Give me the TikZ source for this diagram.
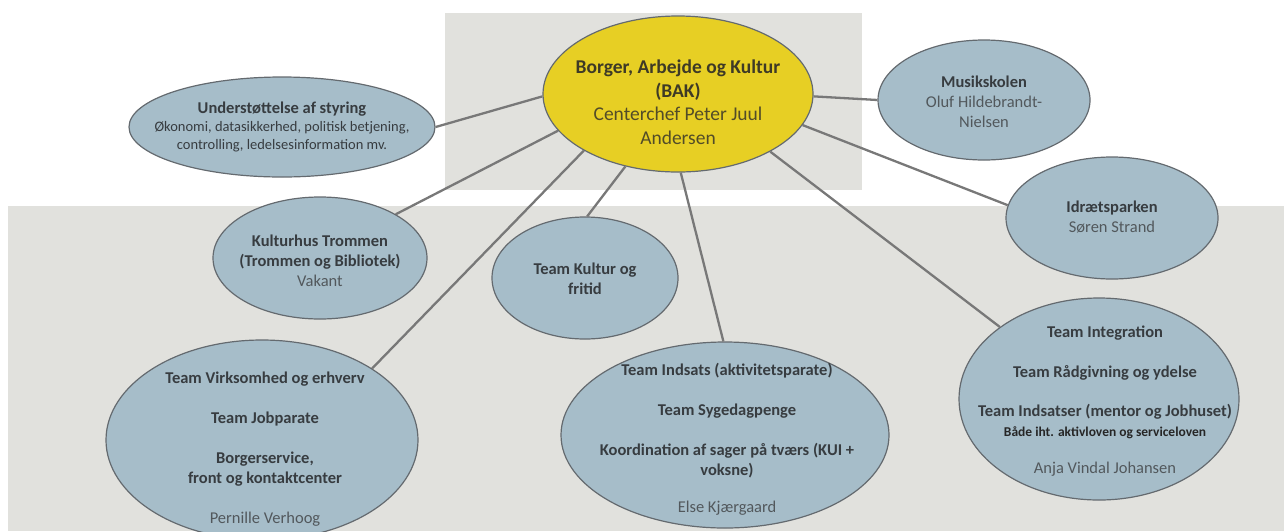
\documentclass[tikz,border=0pt]{standalone}
\usepackage{fontspec}
\setmainfont{Carlito}
\usetikzlibrary{shapes.geometric}

\definecolor{bakyellow}{RGB}{231,207,36}
\definecolor{blobblue}{RGB}{166,189,201}
\definecolor{rimgray}{RGB}{100,106,111}
\definecolor{panelgray}{RGB}{225,225,221}
\definecolor{linkgray}{RGB}{120,120,120}
\definecolor{inkdark}{RGB}{55,60,64}
\definecolor{inkname}{RGB}{82,88,92}
\definecolor{hubink}{RGB}{62,58,38}
\definecolor{hubname}{RGB}{82,76,40}
\newcommand\staffname[1]{{\color{inkname}#1}}

\begin{document}
\begin{tikzpicture}[x=1pt, y=-1pt,
  blob/.style={ellipse, draw=rimgray, line width=1.2pt, fill=blobblue, inner sep=0pt},
  hub/.style={ellipse, draw=rimgray, line width=1.2pt, fill=bakyellow, inner sep=0pt},
  txt/.style={align=center, text=inkdark, inner sep=0pt, font=\fontsize{16.5}{20}\selectfont},
  link/.style={draw=linkgray, line width=2.3pt}]
  \useasboundingbox (0,0) rectangle (1284,531);
  \fill [panelgray] (445,13) rectangle (862,190);
  \fill [panelgray] (8,206) rectangle (1284,531);

  \node [hub, minimum width=270pt, minimum height=156pt] (bak) at (678,94) {};
  \node [blob, minimum width=306pt, minimum height=100pt] (styr) at (282,127) {};
  \node [blob, minimum width=212pt, minimum height=120pt] (musik) at (984,100) {};
  \node [blob, minimum width=212pt, minimum height=122pt] (idraet) at (1112,218) {};
  \node [blob, minimum width=214pt, minimum height=122pt] (trommen) at (320,258) {};
  \node [blob, minimum width=186pt, minimum height=122pt] (kultur) at (585,278) {};
  \node [blob, minimum width=312pt, minimum height=200pt] (virk) at (262,440) {};
  \node [blob, minimum width=328pt, minimum height=186pt] (indsats) at (725,435) {};
  \node [blob, minimum width=280pt, minimum height=202pt] (integ) at (1099,399) {};

  \draw [link] (bak.181) -- (styr.0);
  \draw [link] (bak.-1) -- (musik.180);
  \draw [link] (bak.-14) -- (idraet.173);
  \draw [link] (bak.197) -- (trommen.30);
  \draw [link] (bak.211) -- (virk.33);
  \draw [link] (bak.234) -- (kultur.88);
  \draw [link] (bak.272) -- (indsats.91);
  \draw [link] (bak.-32) -- (integ.144);

  \node [txt, text=hubink, font=\fontsize{19.5}{23.5}\selectfont] (bak-t) at (678,102)
    {\textbf{Borger, Arbejde og Kultur}\\\textbf{(BAK)}\\{\color{hubname}Centerchef Peter Juul}\\{\color{hubname}Andersen}};
  \node [txt, font=\fontsize{14.5}{18}\selectfont] (styr-t) at (282,127)
    {{\fontsize{16.5}{18}\selectfont\bfseries Understøttelse af styring}\\Økonomi, datasikkerhed, politisk betjening,\\controlling, ledelsesinformation mv.};
  \node [txt] (musik-t) at (984,102)
    {\textbf{Musikskolen}\\\staffname{Oluf Hildebrandt-}\\\staffname{Nielsen}};
  \node [txt] (idraet-t) at (1112,217)
    {\textbf{Idrætsparken}\\\staffname{Søren Strand}};
  \node [txt] (trommen-t) at (320,261)
    {\textbf{Kulturhus Trommen}\\\textbf{(Trommen og Bibliotek)}\\\staffname{Vakant}};
  \node [txt] (kultur-t) at (585,279)
    {\textbf{Team Kultur og}\\\textbf{fritid}};
  \node [txt] (virk-t) at (265,449)
    {\textbf{Team Virksomhed og erhverv}\\[20pt]\textbf{Team Jobparate}\\[20pt]\textbf{Borgerservice,}\\\textbf{front og kontaktcenter}\\[20pt]\staffname{Pernille Verhoog}};
  \node [txt] (indsats-t) at (727,439)
    {\textbf{Team Indsats (aktivitetsparate)}\\[20pt]\textbf{Team Sygedagpenge}\\[20pt]\textbf{Koordination af sager på tværs (KUI +}\\\textbf{voksne)}\\[17pt]\staffname{Else Kjærgaard}};
  \node [txt] (integ-t) at (1105,401)
    {\textbf{Team Integration}\\[20pt]\textbf{Team Rådgivning og ydelse}\\[19pt]\textbf{Team Indsatser (mentor og Jobhuset)}\\{\fontsize{13.5}{16}\selectfont\bfseries\color{black!85}Både iht. aktivloven og serviceloven}\\[17pt]\staffname{Anja Vindal Johansen}};
\end{tikzpicture}
\end{document}
